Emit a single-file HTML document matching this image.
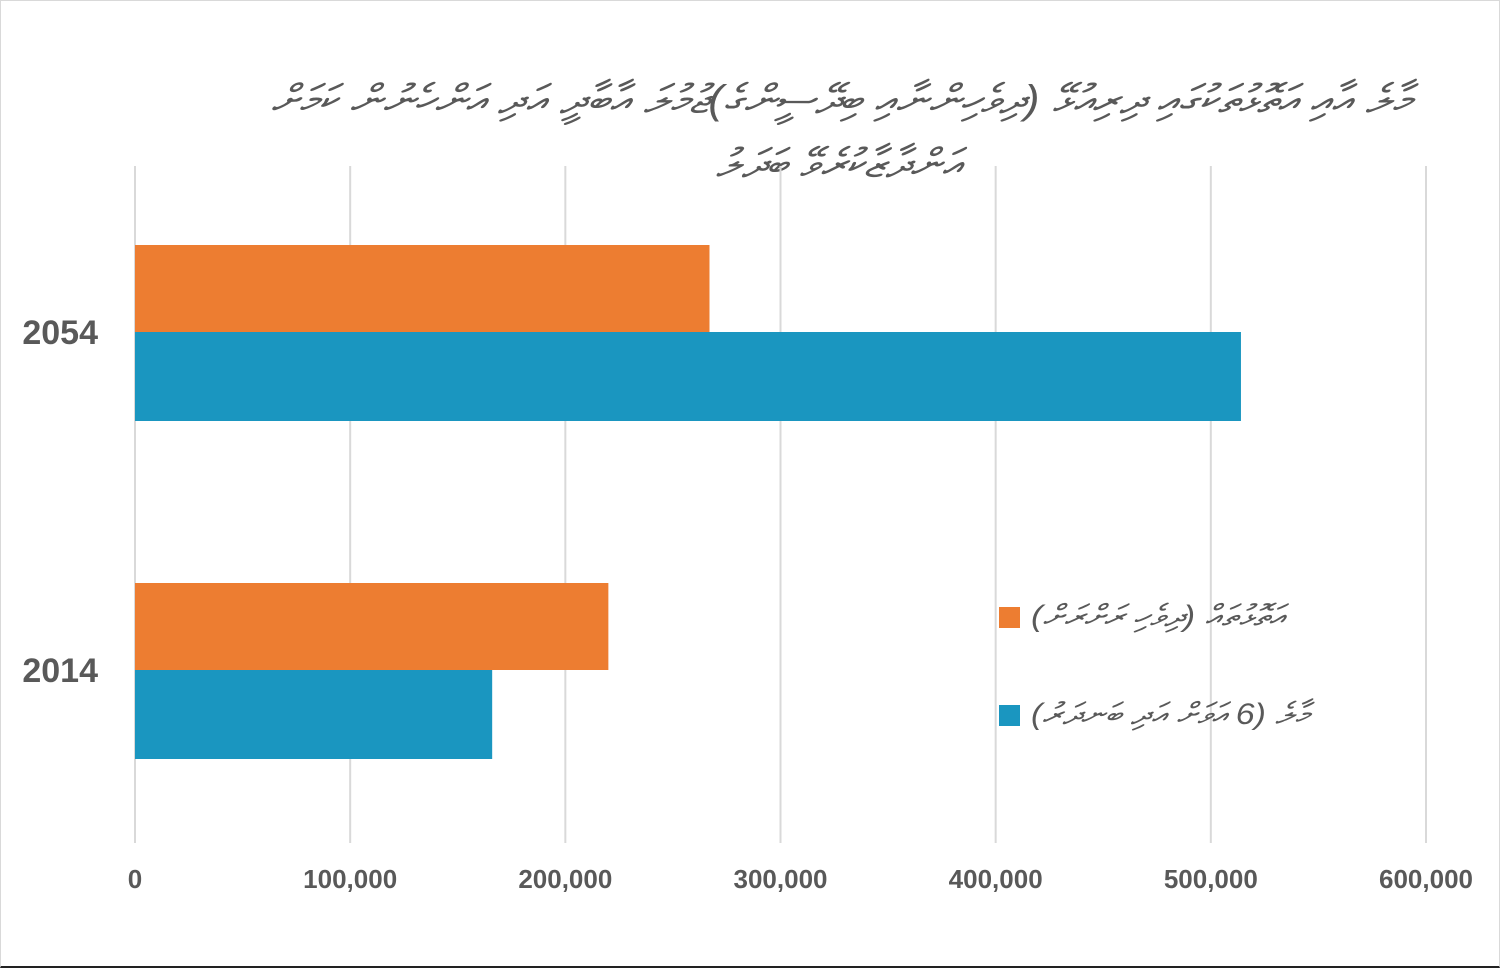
<!DOCTYPE html>
<html><head><meta charset="utf-8">
<style>
body{margin:0;background:#fff;}
#c{position:relative;width:1500px;height:968px;overflow:hidden;box-sizing:border-box;border:1px solid #d9d9d9;border-bottom:2px solid #222;}
svg text{font-family:"Liberation Sans","DejaVu Sans",sans-serif;}
</style></head>
<body>
<div id="c">
<svg id="s" width="1500" height="968">
<text x="1410" y="112" font-size="40" fill="#595959" text-anchor="start" direction="rtl" font-style="italic" textLength="1140" lengthAdjust="spacingAndGlyphs">މާލެ އާއި އަތޮޅުތަކުގައި ދިރިއުޅޭ (ދިވެހިންނާއި ބިދޭސީންގެ)ޖުމުލަ އާބާދީ އަދި އަންހެނުން ކަމަށް</text>
<text x="960" y="176" font-size="40" fill="#595959" text-anchor="start" direction="rtl" font-style="italic" textLength="245" lengthAdjust="spacingAndGlyphs">އަންދާޒާކުރެވޭ ބަދަލު</text>
</svg>
</div>
<script>
const categories=["2054","2014"];
const atollValues=[267000,220000];
const maleValues=[514000,166000];
const ticks=[0,100000,200000,300000,400000,500000,600000];
const tickLabels=["0","100,000","200,000","300,000","400,000","500,000","600,000"];
const NS="http://www.w3.org/2000/svg";
const s=document.getElementById('s');
const X0=134,X1=1425,MAX=600000;
const x=v=>X0+(v/MAX)*(X1-X0);
const catCenter=[331,669];
function mk(t,a){const e=document.createElementNS(NS,t);for(const k in a)e.setAttribute(k,a[k]);s.appendChild(e);return e;}
ticks.forEach((t,i)=>{
 const g=mk('line',{x1:x(t),x2:x(t),y1:165,y2:842,stroke:'#d9d9d9','stroke-width':2});
 
 
 const l=mk('text',{x:x(t),y:887,'font-size':26,'font-weight':'bold',fill:'#595959','text-anchor':'middle'});
 l.textContent=tickLabels[i];
 
 
});
categories.forEach((c,i)=>{
 const cy=catCenter[i];
 const a=mk('rect',{x:X0,y:cy-87,width:x(atollValues[i])-X0,height:87,fill:'#ed7d31'});
 
 
 const m=mk('rect',{x:X0,y:cy,width:x(maleValues[i])-X0,height:89,fill:'#1a96c0'});
 
 
 const t=mk('text',{x:97,y:cy+12,'font-size':34,'font-weight':'bold',fill:'#595959','text-anchor':'end'});
 t.textContent=c;
 
 
});
const legend=[["#ed7d31","އަތޮޅުތައް (ދިވެހި ރަށްރަށް)",616,1283,253],["#1a96c0","މާލެ (6 އަވަށް އަދި ބަނދަރު)",714,1308,278]];
legend.forEach((l,i)=>{
 const r=mk('rect',{x:998,y:l[2]-10,width:21,height:21,fill:l[0]});
 
 
 const t=mk('text',{x:l[3],y:l[2]+9,'font-size':30,fill:'#595959','text-anchor':'start',direction:'rtl','font-style':'italic',textLength:l[4],lengthAdjust:'spacingAndGlyphs'});
 t.textContent=l[1];
 
 
});
</script>
</body></html>
